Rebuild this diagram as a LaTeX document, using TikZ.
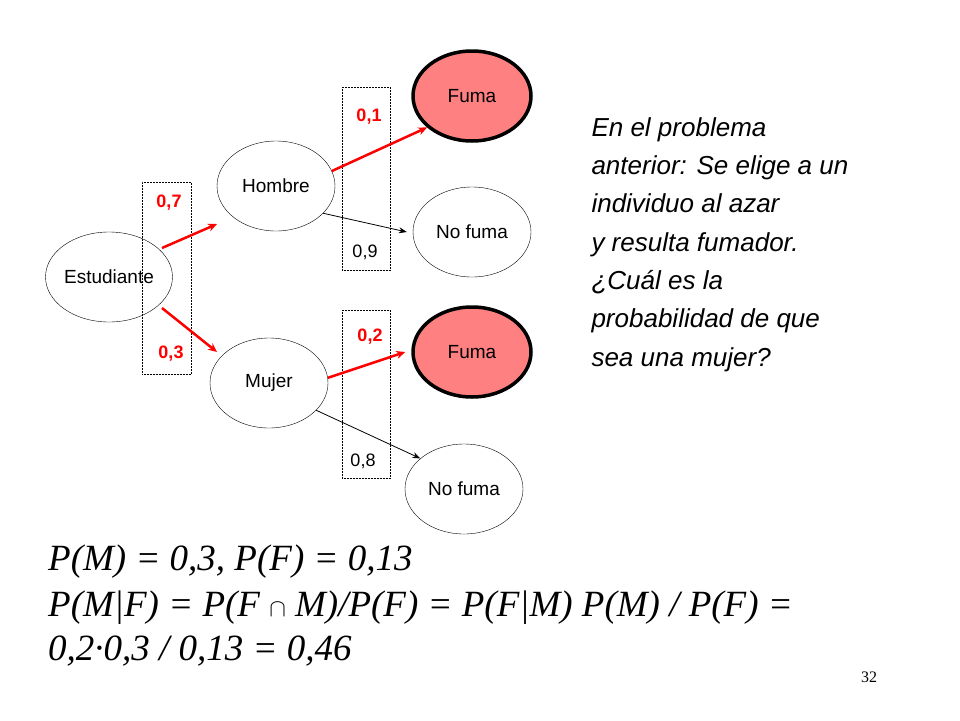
\documentclass[tikz,border=0pt]{standalone}
\usepackage{fontspec}
\setmainfont{Liberation Serif}
\setsansfont{Liberation Sans}
\usetikzlibrary{shapes.geometric,arrows.meta}
\definecolor{fumared}{RGB}{255,128,128}
\begin{document}
\begin{tikzpicture}[x=1pt,y=-1pt,
  ev/.style={ellipse,draw,inner sep=0,minimum width=118pt,minimum height=90pt,font=\sffamily\fontsize{19}{22}\selectfont},
  fuma/.style={ev,fill=fumared,line width=3.5pt,minimum width=118pt,minimum height=90pt},
  pbox/.style={draw,densely dotted,line width=0.5pt},
  redarr/.style={draw=red,line width=2.5pt,-{Stealth[length=9pt,width=8pt]}},
  blkarr/.style={draw,line width=0.8pt,-{Stealth[length=8pt,width=6pt]}},
  rlab/.style={text=red,font=\sffamily\bfseries\fontsize{18}{20}\selectfont},
  blab/.style={font=\sffamily\fontsize{18}{20}\selectfont}]
\useasboundingbox (0,0) rectangle (960,720);
\fill[white] (0,0) rectangle (960,720);
% dotted boxes
\node[pbox,minimum width=49pt,minimum height=192pt,inner sep=0] (b1) at (166.5,278) {};
\node[pbox,minimum width=48pt,minimum height=183pt,inner sep=0] (b2) at (366,178.5) {};
\node[pbox,minimum width=48pt,minimum height=168pt,inner sep=0] (b3) at (366,394) {};
% nodes
\node[ev] (est) at (109,277) {Estudiante};
\node[ev] (hom) at (276,186) {Hombre};
\node[ev] (muj) at (269,383) {Mujer};
\node[fuma] (f1) at (472,96) {Fuma};
\node[ev] (n1) at (472,232) {No fuma};
\node[fuma] (f2) at (472,352) {Fuma};
\node[ev] (n2) at (464,489) {No fuma};
% arrows
\coordinate (a1s) at (162,248); \coordinate (a1e) at (217,224);
\coordinate (a2s) at (162,308); \coordinate (a2e) at (217,352);
\draw[redarr] (a1s) -- (a1e);
\draw[redarr] (a2s) -- (a2e);
\draw[redarr] (hom.15) -- (f1.215);
\draw[redarr] (muj.5) -- ([xshift=-6pt]f2.west);
\draw[blkarr] (hom.-30) -- ([xshift=-6pt]n1.west);
\draw[blkarr] (muj.-30) -- (n2.145);
% labels
\node[rlab] (l07) at (169,203) {0,7};
\node[rlab] (l03) at (171,354) {0,3};
\node[rlab] (l01) at (369,117) {0,1};
\node[blab] (l09) at (365,252) {0,9};
\node[rlab] (l02) at (370,337) {0,2};
\node[blab] (l08) at (363,461) {0,8};
% right text
\node[anchor=north west,align=left,font=\sffamily\itshape\fontsize{26}{38.3}\selectfont] (txt) at (588,114)
 {En el problema\\anterior: Se elige a un\\individuo al azar\\y resulta fumador.\\¿Cuál es la\\probabilidad de que\\sea una mujer?};
% formulas
\node[anchor=base west,font=\itshape\fontsize{37}{40}\selectfont,inner sep=0] (e1) at (48,570) {P(M) = 0,3, P(F) = 0,13};
\node[anchor=base west,font=\itshape\fontsize{37}{40}\selectfont,inner sep=0] (e2) at (48,616) {P(M|F) = P(F {\upshape$\cap$} M)/P(F) = P(F|M) P(M) / P(F) =};
\node[anchor=base west,font=\itshape\fontsize{37}{40}\selectfont,inner sep=0] (e3) at (48,660) {0,2·0,3 / 0,13 = 0,46};
\node[anchor=base,font=\fontsize{16}{18}\selectfont,inner sep=0] (pg) at (869,682) {32};
\end{tikzpicture}
\end{document}
